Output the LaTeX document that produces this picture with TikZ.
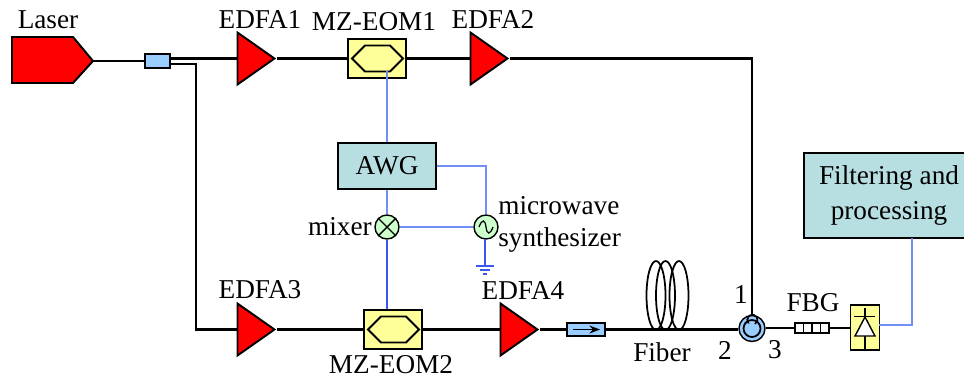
\documentclass[tikz,border=0pt]{standalone}
\usepackage{fontspec}
\setmainfont{Liberation Serif}
\usepackage{xcolor}
\usetikzlibrary{shapes.geometric}
\usetikzlibrary{arrows.meta}
\usetikzlibrary{calc}

\definecolor{lightyellow}{HTML}{FFFF99}
\definecolor{lightblue}{HTML}{99CCFF}
\definecolor{paleteal}{HTML}{B7DEE1}
\definecolor{palegreen}{HTML}{CCFFCC}
\definecolor{signalblue}{HTML}{7090F8}
\definecolor{groundblue}{HTML}{3858F0}

\tikzset{
  fiberline/.style={line width=1.2pt, black},
  signal/.style={line width=0.7pt, signalblue},
  lowsignal/.style={line width=0.7pt, groundblue},
  lbl/.style={inner sep=0pt, font=\fontsize{15.5}{19.8}\selectfont},
  amp/.style={isosceles triangle, isosceles triangle stretches, shape border rotate=0,
    draw, line width=1.1pt, fill=red, inner sep=0pt, minimum width=1.04cm, minimum height=0.74cm, anchor=apex},
  modbox/.style={rectangle, draw, line width=1.1pt, fill=lightyellow, inner sep=0pt, minimum width=1.16cm, minimum height=0.78cm},
  tealbox/.style={rectangle, draw, line width=0.8pt, fill=paleteal, inner sep=0pt},
  bluebox/.style={rectangle, draw, line width=1.1pt, fill=lightblue, inner sep=0pt},
  roundel/.style={circle, draw, line width=0.8pt, fill=palegreen, inner sep=0pt, minimum size=0.48cm}
}

\begin{document}
\begin{tikzpicture}[x=0.02cm, y=-0.02cm]

      \useasboundingbox (0,0) rectangle (964,380);
      \clip (0,0) rectangle (964,380);

      % laser and splitter
      \coordinate (lasertip) at (93,61);
      \draw[line width=1.1pt, fill=red] (12,37) -- (73,37) -- (lasertip) -- (73,83) -- (12,83) -- cycle;
      \node[bluebox, minimum width=0.5cm, minimum height=0.28cm] (splitter) at (157.5,61) {};

      % amplifiers
      \foreach \name/\x/\y in {edfaone/277/58.5, edfatwo/510/58.5, edfathree/277/329.5, edfafour/540/329.5}
      \node[amp] (\name) at (\x,\y) {};

      % modulators
      \node[modbox] (mzone) at (377,58.5) {};
      \node[modbox] (mztwo) at (393,329.5) {};
      \foreach \m in {mzone, mztwo}
      \draw[line width=1.1pt, shift={(\m)}] (-25,0) -- (-12,-13) -- (13,-13) -- (26,0) -- (13,13) -- (-12,13) -- cycle;

      % driving electronics
      \node[tealbox, minimum width=1.96cm, minimum height=0.92cm, lbl] (awg) at (387,166) {AWG};
      \node[roundel] (mixer) at (387,227) {};
      \node[roundel] (synth) at (486,227) {};
      \draw[line width=0.8pt] (mixer.45) -- (mixer.225) (mixer.135) -- (mixer.315);
      \draw[line width=0.7pt, shift={(synth)}] (-7,0) .. controls (-4,-8) and (-1,-8) .. (0,0) .. controls (1,8) and (4,8) .. (7,0);
      \coordinate (ground) at (485,266);
      \draw[lowsignal] (synth) ++(-1,12) -- (ground);
      \draw[lowsignal] (476,266) -- (494,266) (480,270) -- (490,270) (483,274) -- (487,274);

      % output path
      \node[bluebox, minimum width=0.76cm, minimum height=0.26cm] (isolator) at (586,329.5) {};
      \draw[-{Stealth[length=6pt]}, line width=1.1pt] (573,329.5) -- (600,329.5);
      \foreach \x in {656, 665.5, 679}
      \draw[line width=1pt] (\x,295.5) ellipse (9.5 and 34.5);
      \node[circle, draw, line width=0.8pt, fill=lightblue, inner sep=0pt, minimum size=0.52cm] (circulator) at (752,328.5) {};
      \draw[line width=1pt] (circulator) circle (8.5);
      \draw[-{Stealth[length=3pt]}, line width=0.9pt] (755,324) arc (60:-235:5);
      \node[rectangle, draw, line width=1.1pt, fill=white, inner sep=0pt, minimum width=0.68cm, minimum height=0.2cm] (fbg) at (812,328) {};
      \foreach \x in {803.5, 812, 820.5}
      \draw[line width=1.1pt] (\x,323) -- (\x,333);
      \node[rectangle, draw, line width=0.7pt, fill=lightyellow, inner sep=0pt, minimum width=0.58cm, minimum height=0.9cm] (detector) at (865,327.5) {};
      \draw[line width=0.7pt] (865,308) -- (865,350) (854,316.5) -- (875,316.5);
      \draw[line width=0.8pt, fill=white] (865,317) -- (855,336) -- (875,336) -- cycle;
      \node[tealbox, minimum width=3.4cm, minimum height=1.7cm, lbl, align=center] (filter) at (889,195.5) {Filtering and\\processing};

      % fibre connections
      \draw[fiberline] (lasertip) -- (splitter.west |- lasertip);
      \draw[fiberline] (splitter.east |- edfaone.apex) -- (edfaone.lower side);
      \draw[fiberline] ($(splitter.east)+(0,3)$) -| (196,329.5) -- (edfathree.lower side);
      \draw[fiberline] (edfaone.apex) -- (mzone.west);
      \draw[fiberline] (mzone.east) -- (edfatwo.lower side);
      \draw[fiberline] (edfatwo.apex) -| (circulator.north);
      \draw[fiberline] (edfathree.apex) -- (mztwo.west);
      \draw[fiberline] (mztwo.east) -- (edfafour.lower side);
      \draw[fiberline] (edfafour.apex) -- (isolator.west);
      \draw[fiberline] (isolator.east) -- (circulator.west |- isolator.east);
      \draw[fiberline] (circulator.east |- fbg.west) -- (fbg.west);
      \draw[fiberline] (fbg.east) -- (detector.west |- fbg.east);

      % electrical connections
      \draw[signal] (387,71) -- (awg.north);
      \draw[signal] (awg.east) -| (synth.north);
      \draw[signal] (awg.south) -- (mixer.north);
      \draw[signal] (mixer.east) -- (synth.west);
      \draw[lowsignal] (mixer.south) -- (mixer.south |- mztwo.north);
      \coordinate (pdout) at (879,325);
      \draw[signal] (pdout) -| (912,238);

      % labels
      \node[lbl] (laserlabel) at (48,20) {Laser};
      \node[lbl] (edfaonelabel) at (260,20) {EDFA1};
      \node[lbl] (mzonelabel) at (374,22) {MZ-EOM1};
      \node[lbl] (edfatwolabel) at (493,20) {EDFA2};
      \node[lbl] (edfathreelabel) at (260,290) {EDFA3};
      \node[lbl] (edfafourlabel) at (523,291) {EDFA4};
      \node[lbl] (mztwolabel) at (391,365) {MZ-EOM2};
      \node[lbl, anchor=east] (mixerlabel) at (372,227) {mixer};
      \node[lbl, anchor=west] (synthlabelone) at (498,206) {microwave};
      \node[lbl, anchor=west] (synthlabeltwo) at (498,240) {synthesizer};
      \node[lbl] (fiberlabel) at (662,352) {Fiber};
      \node[lbl] (portone) at (741,295) {1};
      \node[lbl] (porttwo) at (725,350) {2};
      \node[lbl] (portthree) at (775,350) {3};
      \node[lbl] (fbglabel) at (813,303) {FBG};
    \end{tikzpicture}
\end{document}
